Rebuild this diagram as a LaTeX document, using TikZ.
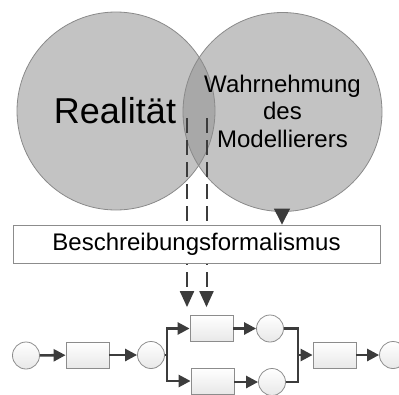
\documentclass[tikz,border=0pt]{standalone}
\usepackage{fontspec}
\setmainfont{Liberation Sans}
\usetikzlibrary{arrows.meta}

\definecolor{venn}{HTML}{C3C3C3}
\definecolor{lens}{HTML}{A8A8A8}
\definecolor{vennline}{HTML}{8A8A8A}
\definecolor{nodeline}{HTML}{8C8C8C}
\definecolor{nodelow}{HTML}{E8E8E8}
\definecolor{arrowgray}{HTML}{3C3C3C}

\tikzset{
  place/.style={circle, minimum size=27pt, inner sep=0pt, draw=nodeline,
    line width=0.8pt, top color=white, bottom color=nodelow},
  trans/.style={rectangle, minimum width=43pt, minimum height=26pt, inner sep=0pt,
    draw=nodeline, line width=0.8pt, top color=white, bottom color=nodelow},
  flow/.style={draw=arrowgray, line width=2.6pt,
    -{Triangle[length=12pt,width=12pt]}},
  plain/.style={draw=arrowgray, line width=2.6pt},
  dasharrow/.style={draw=arrowgray, line width=2pt, dash pattern=on 15pt off 7pt,
    -{Triangle[length=16pt,width=14pt]}, shorten >=8pt},
  formbox/.style={rectangle, draw=nodeline, fill=white, line width=0.8pt,
    minimum width=367pt, minimum height=38pt, inner sep=0pt,
    font=\fontsize{24}{28}\selectfont},
}

\begin{document}
\begin{tikzpicture}[x=1pt, y=-1pt]
  \useasboundingbox (0,0) rectangle (399,394);
  \clip (0,0) rectangle (399,394);

  % the two overlapping circles and their common lens
  \coordinate (lc) at (116,111);
  \coordinate (rc) at (282.5,112);
  \fill[venn] (lc) circle[radius=99pt];
  \fill[venn] (rc) circle[radius=99.5pt];
  \begin{scope}
    \clip (lc) circle[radius=99pt];
    \fill[lens] (rc) circle[radius=99.5pt];
  \end{scope}
  \draw[vennline, line width=0.8pt] (lc) circle[radius=99pt];
  \draw[vennline, line width=0.8pt] (rc) circle[radius=99.5pt];

  \node[anchor=base, inner sep=0pt, font=\fontsize{36}{40}\selectfont] (real) at (115,123) {Realität};
  \node[anchor=base, inner sep=0pt, align=center,
        font=\fontsize{24}{27.5}\selectfont] (wahr) at (282.5,147)
        {Wahrnehmung\\des\\Modellierers};

  % Petri net
  \node[place] (p1) at (26,355.5) {};
  \node[trans] (t1) at (87.5,355) {};
  \node[place] (p2) at (151,355) {};
  \coordinate (split) at (167,355);
  \node[trans] (t2) at (211.5,328.5) {};
  \node[trans] (t3) at (212.5,381) {};
  \node[place] (p3) at (270,328.5) {};
  \node[place] (p4) at (272,382) {};
  \coordinate (join) at (298,355);
  \node[trans] (t4) at (334.5,355) {};
  \node[place] (p5) at (393,355) {};

  \draw[flow] (p1) -- (t1);
  \draw[flow] (t1) -- (p2);
  \draw[plain] (p2.east) -- (split);
  \draw[flow] (split) |- (t2.west);
  \draw[flow] (split) |- (t3.west);
  \draw[flow] (t2) -- (p3);
  \draw[flow] (t3.east |- p4) -- (p4);
  \draw[plain] (p3.east) -| (join);
  \draw[plain] (p4.east) -| (join);
  \draw[flow] (join) -- (t4.west);
  \draw[flow] (t4) -- (p5);

  % dashed links from the lens down to the net
  \coordinate (d1) at (187,118);
  \coordinate (d2) at (206.5,118);
  \draw[dasharrow] (d1) -- (d1 |- t2.north);
  \draw[dasharrow] (d2) -- (d2 |- t2.north);

  % description formalism box
  \node[formbox] (box) at (196.5,244) {Beschreibungsformalismus};

  % arrow from the modeller's perception into the box
  \coordinate (mbot) at (282,209);
  \draw[draw=arrowgray, line width=1pt, -{Triangle[length=16pt,width=16pt]}]
    (mbot) -- (mbot |- box.north);
\end{tikzpicture}
\end{document}
